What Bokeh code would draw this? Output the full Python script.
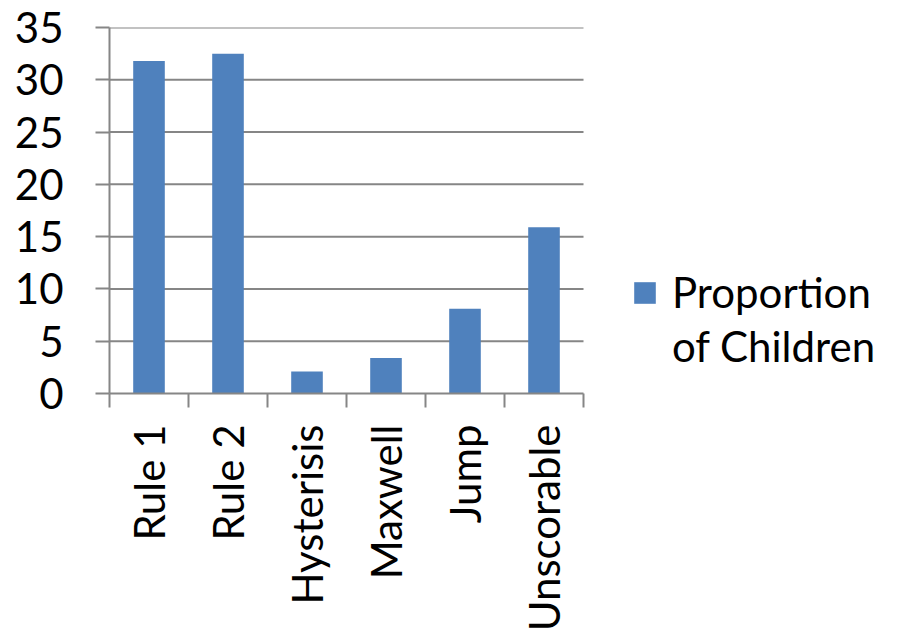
from bokeh.plotting import figure
from bokeh.models import Range1d, FixedTicker, Legend, LegendItem
from bokeh.embed import file_html
from bokeh.resources import INLINE

# Strategy categories and the share of children in each (%)
categories = ["Rule 1", "Rule 2", "Hysterisis", "Maxwell", "Jump", "Unscorable"]
proportion = [31.8, 32.5, 2.1, 3.4, 8.1, 15.9]
y_ticks = [0, 5, 10, 15, 20, 25, 30, 35]
series_label = ["Proportion", "of Children"]

FONT = "Lato"
FONT_SIZE = "42px"
BAR = "#4F81BD"
GREY = "#868686"

# page layout (px): plot box from x=109 to 583, y=27 to 393
W, H = 903, 644
LEFT, TOP, BOTTOM = 109, 27, 251
PLOT_W = 474

n = len(categories)
centers = [i + 0.5 for i in range(n)]
bounds = list(range(n + 1))
# the frame runs to the page's right edge so the legend can sit in it
x_end = n * (W - LEFT) / PLOT_W

p = figure(
    width=W, height=H,
    x_range=Range1d(0, x_end), y_range=Range1d(0, 35),
    output_backend="svg", toolbar_location=None,
    min_border_left=LEFT, min_border_top=TOP,
    min_border_right=0, min_border_bottom=BOTTOM,
)
p.outline_line_color = None
p.background_fill_color = "white"
p.border_fill_color = "white"
p.xgrid.grid_line_color = None
p.ygrid.grid_line_color = None

# horizontal gridlines across the category span only
p.segment(x0=[0] * len(y_ticks[1:]), x1=[n] * len(y_ticks[1:]),
          y0=y_ticks[1:], y1=y_ticks[1:],
          line_color=GREY, line_width=2, level="underlay")

r = p.vbar(x=centers, top=proportion, width=0.4, fill_color=BAR, line_color=None)
# invisible companion so the legend's second text line gets no swatch
blank = p.vbar(x=[0], top=[0], width=0, fill_alpha=0, line_alpha=0)

# Category axis: labels centred on bars, tick marks between categories
p.xaxis.bounds = (0, n)
p.xaxis.ticker = FixedTicker(ticks=centers, minor_ticks=bounds)
p.xaxis.major_label_overrides = {c: name for c, name in zip(centers, categories)}
p.xaxis.major_tick_out = 0
p.xaxis.major_tick_in = 0
p.xaxis.minor_tick_out = 14
p.xaxis.minor_tick_in = 0
p.xaxis.minor_tick_line_color = GREY
p.xaxis.minor_tick_line_width = 2
p.xaxis.major_label_orientation = 1.5707963267948966
p.xaxis.major_label_standoff = 17

p.yaxis.ticker = FixedTicker(ticks=y_ticks)
p.yaxis.major_tick_out = 14
p.yaxis.major_tick_in = 0
p.yaxis.minor_tick_line_color = None
p.yaxis.major_label_standoff = 32

for ax in (p.xaxis, p.yaxis):
    ax.axis_line_color = GREY
    ax.axis_line_width = 2
    ax.major_tick_line_color = GREY
    ax.major_tick_line_width = 2
    ax.major_label_text_font = FONT
    ax.major_label_text_font_size = FONT_SIZE
    ax.major_label_text_color = "black"

legend = Legend(
    items=[
        LegendItem(label=series_label[0], renderers=[r]),
        LegendItem(label=series_label[1], renderers=[blank]),
    ],
    location=(522, 22),
    glyph_width=27, glyph_height=27,
    label_text_font=FONT, label_text_font_size=FONT_SIZE,
    label_text_color="black", label_height=40,
    spacing=4,
    border_line_color=None, background_fill_alpha=0,
    padding=0, margin=0, label_standoff=14,
)
p.add_layout(legend)

open("out.html", "w").write(file_html(p, INLINE))
